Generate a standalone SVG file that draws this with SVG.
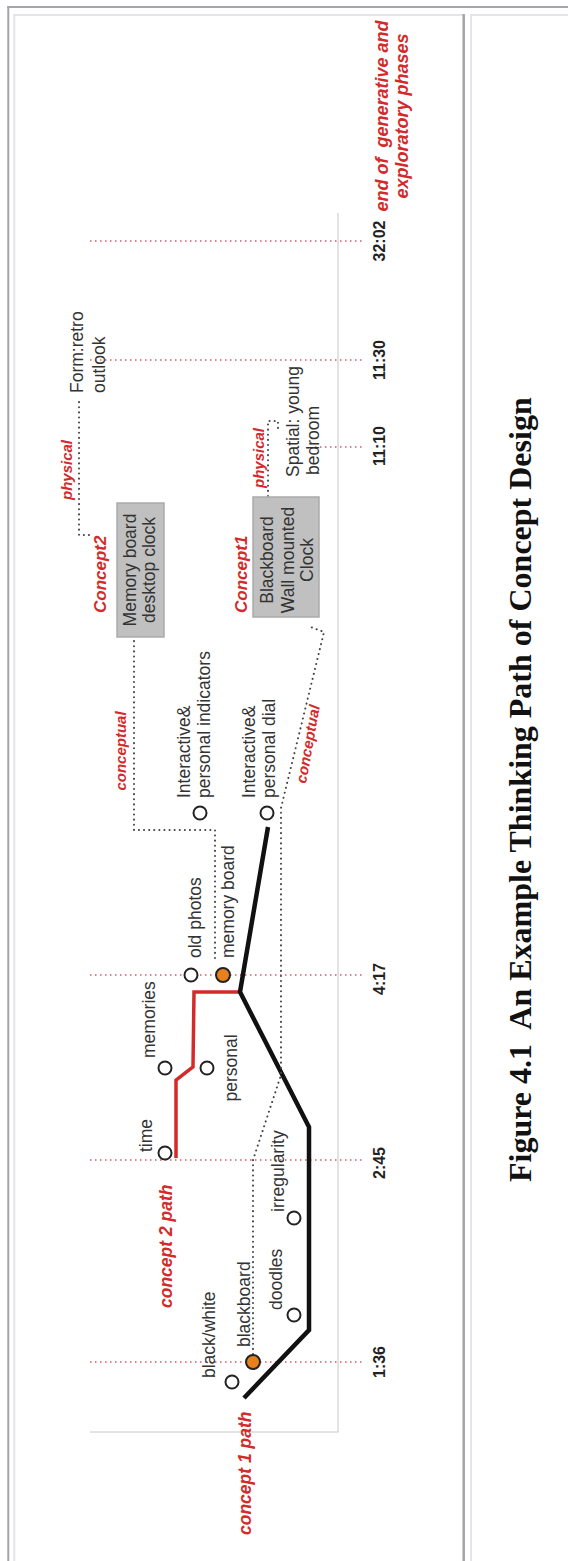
<svg xmlns="http://www.w3.org/2000/svg" width="568" height="1561" viewBox="0 0 568 1561">
<style>
.lbl{font-family:"Liberation Sans",Arial,sans-serif;font-size:17.5px;fill:#333}
.red{font-family:"Liberation Sans",Arial,sans-serif;font-weight:bold;font-style:italic;fill:#d42a2a}
.time{font-family:"Liberation Sans",Arial,sans-serif;font-weight:bold;font-size:16px;fill:#222}
.rdot{stroke:#d85a6a;stroke-width:1.5;stroke-dasharray:1.5 3.5;fill:none}
.gdot{stroke:#444;stroke-width:2;stroke-dasharray:0.1 5;stroke-linecap:round;fill:none}
.node{fill:#fff;stroke:#222;stroke-width:2}
.hot{fill:#e8801c;stroke:#222;stroke-width:2}
.box{fill:#c0c0c0;stroke:#aaa;stroke-width:1.5}
</style>
<g id="frame" fill="none">
<line x1="8.3" y1="6" x2="8.3" y2="1561" stroke="#a4a4aa" stroke-width="2"/>
<line x1="7.3" y1="7" x2="568" y2="7" stroke="#a4a4aa" stroke-width="2"/>
<line x1="14.3" y1="14" x2="14.3" y2="1561" stroke="#e4e4ea" stroke-width="2"/>
<line x1="13.3" y1="15" x2="463" y2="15" stroke="#e4e4ea" stroke-width="2"/>
<line x1="470" y1="15" x2="568" y2="15" stroke="#e4e4ea" stroke-width="2"/>
<line x1="463.7" y1="14" x2="463.7" y2="1561" stroke="#a4a4aa" stroke-width="2.5"/>
<line x1="471" y1="14" x2="471" y2="1561" stroke="#e4e4ea" stroke-width="2"/>
</g>
<g id="axis">
<line x1="338" y1="213" x2="338" y2="1432" stroke="#c8c8c8" stroke-width="1"/>
<line x1="90" y1="1432" x2="338.5" y2="1432" stroke="#c8c8c8" stroke-width="1"/>
</g>
<g id="timelines">
<line class="rdot" x1="90" y1="241" x2="362" y2="241"/>
<line class="rdot" x1="90" y1="360" x2="362" y2="360"/>
<line class="rdot" x1="315" y1="447" x2="362" y2="447"/>
<line class="rdot" x1="90" y1="975" x2="362" y2="975"/>
<line class="rdot" x1="90" y1="1160" x2="362" y2="1160"/>
<line class="rdot" x1="90" y1="1362" x2="362" y2="1362"/>
<g class="time" text-anchor="middle">
<text transform="translate(385,241) rotate(-90)">32:02</text>
<text transform="translate(385,360) rotate(-90)">11:30</text>
<text transform="translate(385,446) rotate(-90)">11:10</text>
<text transform="translate(385,979) rotate(-90)">4:17</text>
<text transform="translate(385,1163) rotate(-90)">2:45</text>
<text transform="translate(385,1362) rotate(-90)">1:36</text>
</g>
</g>
<g id="connectors">
<path d="M176,1158 L176,1080 L193,1067 L194,992 L241,992" fill="none" stroke="#d42a2a" stroke-width="3.5" stroke-linejoin="miter"/>
<path d="M244,1398 L309,1330 L309,1127 L240,992 L268,827" fill="none" stroke="#111" stroke-width="4.5" stroke-linejoin="miter"/>
<path class="gdot" d="M253,1354 L253,1160 L281,1075 L281,808 L324,632 L308,626"/>
<path class="gdot" d="M215,958 L215,830 L134,830 L134,638"/>
<path class="gdot" d="M89,535 L79,535 L79,400"/>
<path class="gdot" d="M268,496 L268,421 L278,421 L278,428"/>
</g>
<g id="path-labels" class="red">
<text font-size="17.5" transform="translate(172,1308) rotate(-90)">concept 2 path</text>
<text font-size="17.5" transform="translate(251,1535) rotate(-90)">concept 1 path</text>
<text font-size="15" text-anchor="middle" transform="translate(126,751) rotate(-90)">conceptual</text>
<text font-size="15" text-anchor="middle" transform="translate(313,745) rotate(-80)">conceptual</text>
<text font-size="15" transform="translate(72,500) rotate(-90)">physical</text>
<text font-size="15" transform="translate(264,488) rotate(-90)">physical</text>
<text font-size="18" text-anchor="middle" xml:space="preserve" transform="translate(388,116) rotate(-90)">end of  generative and</text>
<text font-size="18" text-anchor="middle" transform="translate(408,116) rotate(-90)">exploratory phases</text>
</g>
<g id="n-blackwhite"><circle class="node" cx="232" cy="1382" r="6.5"/><text class="lbl" transform="translate(215,1378) rotate(-90)">black/white</text></g>
<g id="n-blackboard"><circle class="hot" cx="253" cy="1362" r="7"/><text class="lbl" transform="translate(250,1347) rotate(-90)">blackboard</text></g>
<g id="n-doodles"><circle class="node" cx="294" cy="1315" r="6.5"/><text class="lbl" transform="translate(282,1310) rotate(-90)">doodles</text></g>
<g id="n-irregularity"><circle class="node" cx="294" cy="1218" r="6.5"/><text class="lbl" transform="translate(284,1212) rotate(-90)">irregularity</text></g>
<g id="n-time"><circle class="node" cx="165" cy="1153" r="6.5"/><text class="lbl" transform="translate(151.5,1152) rotate(-90)">time</text></g>
<g id="n-memories"><circle class="node" cx="165" cy="1068" r="6.5"/><text class="lbl" transform="translate(155,1058) rotate(-90)">memories</text></g>
<g id="n-personal"><circle class="node" cx="207" cy="1068" r="6.5"/><text class="lbl" text-anchor="middle" transform="translate(236.5,1068) rotate(-90)">personal</text></g>
<g id="n-oldphotos"><circle class="node" cx="191" cy="975" r="6.5"/><text class="lbl" transform="translate(200.5,958) rotate(-90)">old photos</text></g>
<g id="n-memoryboard"><circle class="hot" cx="223" cy="975" r="7"/><text class="lbl" transform="translate(233.5,958) rotate(-90)">memory board</text></g>
<g id="n-indicators"><circle class="node" cx="200" cy="813" r="6.5"/><text class="lbl" transform="translate(189.5,798) rotate(-90)">Interactive&amp;</text><text class="lbl" transform="translate(209.5,798) rotate(-90)">personal indicators</text></g>
<g id="n-dial"><circle class="node" cx="267" cy="813" r="6.5"/><text class="lbl" transform="translate(255,798) rotate(-90)">Interactive&amp;</text><text class="lbl" transform="translate(275,798) rotate(-90)">personal dial</text></g>
<g id="n-concept2"><text class="red" font-size="17" transform="translate(106,613) rotate(-90)">Concept2</text><rect class="box" x="117" y="503" width="47" height="134"/><text class="lbl" text-anchor="middle" transform="translate(135.5,570) rotate(-90)">Memory board</text><text class="lbl" text-anchor="middle" transform="translate(155,570) rotate(-90)">desktop clock</text></g>
<g id="n-concept1"><text class="red" font-size="17" transform="translate(247,613) rotate(-90)">Concept1</text><rect class="box" x="253" y="497" width="66" height="120"/><text class="lbl" text-anchor="middle" transform="translate(273,560) rotate(-90)">Blackboard</text><text class="lbl" text-anchor="middle" transform="translate(293.5,560) rotate(-90)">Wall mounted</text><text class="lbl" text-anchor="middle" transform="translate(313,560) rotate(-90)">Clock</text></g>
<g id="n-form"><text class="lbl" transform="translate(83,393) rotate(-90)">Form:retro</text><text class="lbl" transform="translate(104.5,393) rotate(-90)">outlook</text></g>
<g id="n-spatial"><text class="lbl" transform="translate(298.5,477) rotate(-90)">Spatial: young</text><text class="lbl" transform="translate(318.5,475) rotate(-90)">bedroom</text></g>
<g id="title"><text transform="translate(531,1182) rotate(-90)" xml:space="preserve" font-family="'Liberation Serif','Times New Roman',serif" font-weight="bold" font-size="32" fill="#111">Figure 4.1  An Example Thinking Path of Concept Design</text></g>
</svg>
